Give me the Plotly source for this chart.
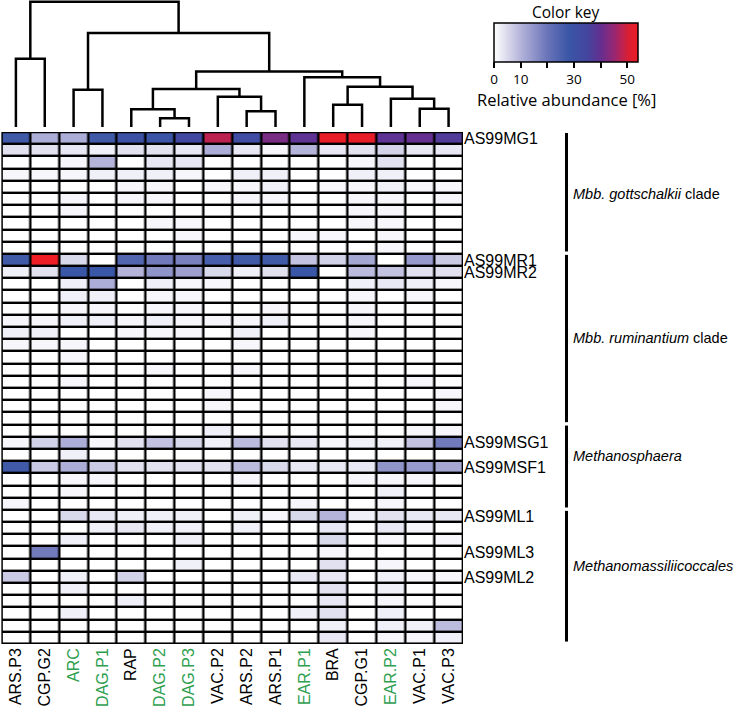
import plotly.graph_objects as go

# samples (columns, dendrogram order) and which ones are printed in green
samples = ["ARS.P3", "CGP.G2", "ARC", "DAG.P1", "RAP", "DAG.P2", "DAG.P3", "VAC.P2",
           "ARS.P2", "ARS.P1", "EAR.P1", "BRA", "CGP.G1", "EAR.P2", "VAC.P1", "VAC.P3"]
green_samples = ["ARC", "DAG.P1", "DAG.P2", "DAG.P3", "EAR.P1", "EAR.P2"]

# labelled OTU rows (row index -> name), 42 rows in total
n_rows = 42
row_labels = {0: "AS99MG1", 10: "AS99MR1", 11: "AS99MR2", 25: "AS99MSG1",
              27: "AS99MSF1", 31: "AS99ML1", 34: "AS99ML3", 36: "AS99ML2"}

# clades: (label, first row, last row, label row)
clades = [("<i>Mbb. gottschalkii</i> clade", 0, 9, 4.6),
          ("<i>Mbb. ruminantium</i> clade", 10, 23, 16.4),
          ("<i>Methanosphaera</i>", 24, 30, 26.1),
          ("<i>Methanomassiliicoccales</i>", 31, 41, 35.1)]

# relative abundance [%], one list per row
abundance = [
    [27, 11, 11, 27, 30, 29, 34, 48, 32, 42, 39, 53, 53, 39, 40, 37],
    [4, 4, 3, 2, 4, 4, 3, 11, 3, 1, 10, 3, 4, 6, 3, 3],
    [0, 0, 1, 10, 0, 3, 3, 0, 0, 0, 0, 0, 1, 4, 0, 0],
    [1, 1, 1, 2, 2, 2, 1, 0, 2, 2, 0, 0, 2, 2, 0, 0],
    [0, 0, 0, 0, 1, 1, 0, 1, 1, 2, 0, 1, 1, 2, 1, 1],
    [0, 0, 1, 0, 1, 1, 0, 0, 1, 1, 0, 0, 1, 1, 0, 1],
    [0, 0, 1, 0, 0, 0, 0, 0, 0, 0, 0, 0, 1, 1, 0, 0],
    [0, 0, 0, 0, 0, 1, 1, 0, 0, 0, 0, 0, 1, 1, 0, 0],
    [0, 0, 0, 0, 0, 0, 1, 0, 0, 0, 1, 1, 0, 1, 0, 0],
    [0, 0, 0, 0, 0, 0, 0, 0, 0, 0, 0, 0, 0, 1, 0, 0],
    [27, 54, 5, 0, 24, 19, 18, 26, 27, 27, 8, 6, 12, 0, 14, 7],
    [2, 4, 28, 28, 10, 15, 13, 5, 2, 4, 28, 0, 9, 8, 4, 4],
    [0, 0, 2, 11, 0, 2, 1, 1, 0, 0, 0, 0, 2, 3, 2, 1],
    [0, 0, 2, 2, 0, 1, 1, 0, 0, 0, 0, 0, 1, 0, 1, 0],
    [0, 0, 1, 1, 0, 1, 1, 0, 0, 1, 0, 0, 1, 0, 0, 0],
    [1, 1, 2, 2, 1, 2, 1, 1, 1, 2, 0, 0, 1, 0, 0, 0],
    [2, 2, 0, 0, 1, 1, 1, 0, 2, 0, 0, 0, 1, 0, 0, 0],
    [1, 1, 1, 0, 0, 0, 0, 0, 1, 0, 0, 0, 0, 0, 0, 0],
    [0, 0, 1, 0, 0, 0, 0, 0, 0, 0, 0, 0, 0, 0, 0, 0],
    [0, 0, 0, 0, 0, 1, 0, 0, 1, 0, 0, 0, 0, 0, 0, 0],
    [0, 0, 1, 0, 0, 0, 0, 0, 0, 0, 0, 0, 0, 0, 1, 0],
    [0, 0, 0, 0, 0, 0, 0, 1, 0, 0, 0, 0, 0, 0, 0, 1],
    [0, 0, 0, 0, 0, 0, 0, 1, 0, 0, 0, 0, 0, 0, 0, 1],
    [0, 0, 0, 0, 0, 0, 0, 0, 0, 0, 0, 0, 0, 0, 0, 0],
    [0, 0, 0, 0, 0, 0, 0, 2, 0, 0, 0, 0, 0, 0, 1, 1],
    [1, 6, 11, 1, 4, 8, 5, 2, 9, 4, 3, 1, 2, 2, 8, 19],
    [0, 0, 2, 0, 0, 0, 0, 0, 0, 0, 0, 0, 0, 0, 0, 0],
    [27, 7, 11, 7, 4, 4, 4, 4, 9, 5, 3, 3, 3, 15, 14, 12],
    [0, 0, 1, 1, 0, 0, 0, 0, 1, 0, 0, 0, 1, 1, 1, 0],
    [0, 0, 1, 0, 0, 0, 0, 0, 0, 0, 0, 0, 0, 2, 0, 0],
    [1, 0, 0, 0, 0, 0, 0, 0, 0, 0, 1, 0, 0, 1, 0, 0],
    [0, 0, 5, 3, 2, 2, 2, 0, 2, 1, 5, 10, 2, 4, 3, 3],
    [0, 0, 0, 2, 3, 2, 2, 0, 2, 0, 0, 3, 0, 3, 1, 0],
    [0, 0, 2, 0, 0, 0, 2, 0, 0, 0, 0, 5, 0, 1, 0, 1],
    [0, 19, 0, 0, 0, 0, 0, 0, 0, 0, 0, 1, 0, 0, 0, 0],
    [0, 0, 0, 0, 0, 0, 2, 0, 0, 0, 0, 4, 0, 1, 0, 0],
    [7, 0, 2, 0, 6, 0, 0, 0, 0, 0, 3, 3, 0, 2, 1, 1],
    [0, 0, 2, 0, 0, 0, 0, 0, 0, 0, 0, 4, 0, 2, 0, 0],
    [0, 0, 0, 0, 2, 0, 0, 0, 0, 0, 0, 3, 0, 1, 0, 0],
    [0, 0, 2, 0, 0, 0, 0, 0, 0, 0, 2, 4, 0, 2, 0, 0],
    [0, 0, 0, 0, 0, 0, 0, 0, 0, 0, 0, 2, 0, 2, 2, 9],
    [0, 0, 0, 0, 0, 0, 0, 0, 0, 0, 0, 3, 0, 1, 1, 2],
]

# linkage of the samples: (left id, right id, height); ids >= 16 are earlier merges
linkage = [
    (5, 6, 8.7), (4, 16, 17.7), (8, 9, 15.7), (7, 18, 30), (17, 19, 37.7),
    (2, 3, 37), (11, 12, 22), (14, 15, 18), (13, 23, 28), (22, 24, 40),
    (10, 25, 49.3), (20, 26, 55), (0, 1, 67.7), (21, 27, 93.3), (28, 29, 124.3),
]

zmax = 54
colorscale = [[0.0, "#ffffff"], [0.185, "#b4b4da"], [0.37, "#6a74b8"], [0.52, "#3a56a6"],
              [0.65, "#44459e"], [0.74, "#642f90"], [0.84, "#9a2670"], [0.93, "#d81f35"],
              [1.0, "#ee1c24"]]

W, H = 742, 720
label_font = "Liberation Sans, Arial, sans-serif"
key_font = "Open Sans, sans-serif"

fig = go.Figure()

fig.add_trace(go.Heatmap(
    z=abundance, x=list(range(len(samples))), y=list(range(n_rows)),
    zmin=0, zmax=zmax, colorscale=colorscale, xgap=2.4, ygap=2.4,
    hoverinfo="skip",
    colorbar=dict(orientation="h", x=494 / W, xanchor="left", xpad=0,
                  y=1 - 22.5 / H, yanchor="top", ypad=0,
                  len=144, lenmode="pixels", thickness=39, thicknessmode="pixels",
                  outlinewidth=1.5, outlinecolor="black",
                  tickvals=[0, 10, 20, 30, 40, 50], ticktext=["0", "10", "", "30", "", "50"],
                  ticks="outside", ticklen=6, tickwidth=2, tickcolor="black",
                  tickfont=dict(family=key_font, size=13.5, color="black")),
))

# dendrogram drawn from the linkage
pos = {i: (float(i), 0.0) for i in range(len(samples))}
dx, dy = [], []
for k, (a, b, h) in enumerate(linkage):
    xa, ha = pos[a]
    xb, hb = pos[b]
    dx += [xa, xa, xb, xb, None]
    dy += [ha, h, h, hb, None]
    pos[len(samples) + k] = ((xa + xb) / 2, h)
fig.add_trace(go.Scatter(x=dx, y=dy, xaxis="x", yaxis="y2", mode="lines",
                         line=dict(color="black", width=2.5), hoverinfo="skip",
                         showlegend=False))

ticktext = []
for s in samples:
    if s in green_samples:
        ticktext.append('<span style="color:#2e9e4f">%s</span>' % s)
    else:
        ticktext.append(s)

fig.update_layout(
    width=W, height=H,
    margin=dict(l=0, r=0, t=0, b=0, autoexpand=False),
    paper_bgcolor="white", plot_bgcolor="white",
    showlegend=False,
    xaxis=dict(domain=[0.002, 463 / W], range=[-0.5, len(samples) - 0.5],
               tickvals=list(range(len(samples))), ticktext=ticktext, tickangle=-90,
               tickfont=dict(family=label_font, size=16, color="black"),
               showgrid=False, zeroline=False, ticks="", automargin=False, anchor="y"),
    yaxis=dict(domain=[1 - 644 / H, 1 - 132 / H], range=[n_rows - 0.5, -0.5],
               side="right", tickvals=list(row_labels.keys()),
               ticktext=list(row_labels.values()),
               tickfont=dict(family=label_font, size=16, color="black"),
               showgrid=False, zeroline=False, ticks="", automargin=False, anchor="x"),
    yaxis2=dict(domain=[1 - 127 / H, 1.0], range=[0, 126], visible=False, anchor="x"),
)

# black background behind the cells (gives the grid) and an outer frame
fig.add_shape(type="rect", xref="x", yref="y", x0=-0.5, x1=len(samples) - 0.5,
              y0=-0.5, y1=n_rows - 0.5, fillcolor="black", line=dict(width=0), layer="below")
fig.add_shape(type="rect", xref="x", yref="y", x0=-0.5, x1=len(samples) - 0.5,
              y0=-0.5, y1=n_rows - 0.5, line=dict(color="black", width=2.4), layer="above")

for name, r0, r1, rl in clades:
    fig.add_shape(type="line", xref="paper", yref="y", x0=566.5 / W, x1=566.5 / W,
                  y0=r0 - 0.42, y1=r1 + 0.3, line=dict(color="black", width=3))
    fig.add_annotation(xref="paper", yref="y", x=571 / W, y=rl,
                       text=name, showarrow=False, xanchor="left", yanchor="middle",
                       font=dict(family=label_font, size=14.5, color="black"))

fig.add_annotation(xref="paper", yref="paper", x=566 / W, y=1 - 12 / H, text="Color key",
                   showarrow=False, xanchor="center", yanchor="middle",
                   font=dict(family=key_font, size=15.5, color="black"))
fig.add_annotation(xref="paper", yref="paper", x=566 / W, y=1 - 99.5 / H,
                   text="Relative abundance [%]", showarrow=False,
                   xanchor="center", yanchor="middle",
                   font=dict(family=key_font, size=16.5, color="black"))

fig.write_html("out.html", config={"displayModeBar": False},
               post_script="document.body.style.margin='0px';")
